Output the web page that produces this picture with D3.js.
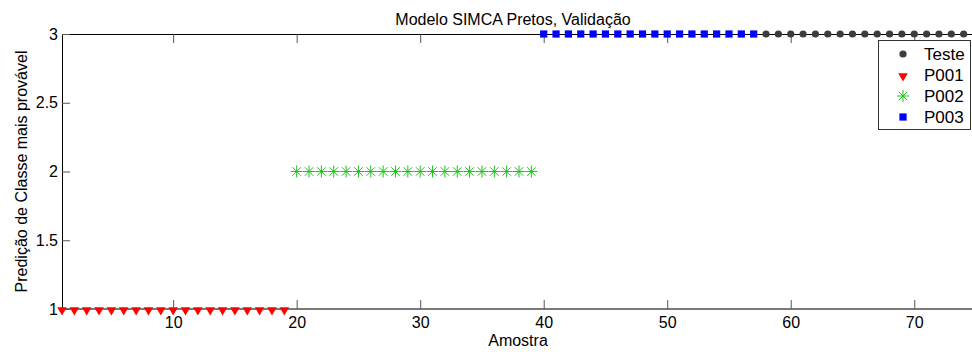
<!DOCTYPE html>
<html><head><meta charset="utf-8">
<script src="https://cdn.jsdelivr.net/npm/d3@7/dist/d3.min.js"></script>
<style>
html,body{margin:0;padding:0;background:#fff;}
svg{display:block;font-family:"Liberation Sans",Arial,sans-serif;}
</style></head>
<body>
<svg id="chart" width="972" height="352"></svg>
<script>
const title = "Modelo SIMCA Pretos, Validação";
const xLabel = "Amostra";
const yLabel = "Predição de Classe mais provável";
const xTicks = [10, 20, 30, 40, 50, 60, 70];
const yTicks = [1, 1.5, 2, 2.5, 3];
const xDomain = [1, 75];
const yDomain = [1, 3];

const p001X = [1,2,3,4,5,6,7,8,9,10,11,12,13,14,15,16,17,18,19];
const p001Y = [1,1,1,1,1,1,1,1,1,1,1,1,1,1,1,1,1,1,1];
const p002X = [20,21,22,23,24,25,26,27,28,29,30,31,32,33,34,35,36,37,38,39];
const p002Y = [2,2,2,2,2,2,2,2,2,2,2,2,2,2,2,2,2,2,2,2];
const p003X = [40,41,42,43,44,45,46,47,48,49,50,51,52,53,54,55,56,57];
const p003Y = [3,3,3,3,3,3,3,3,3,3,3,3,3,3,3,3,3,3];
const testeX = [58,59,60,61,62,63,64,65,66,67,68,69,70,71,72,73,74];
const testeY = [3,3,3,3,3,3,3,3,3,3,3,3,3,3,3,3,3];

const legendNames = ["Teste", "P001", "P002", "P003"];

const svg = d3.select("#chart");
const L = 62, R = 976, T = 34, B = 309;
const x = d3.scaleLinear().domain(xDomain).range([L, R]);
const y = d3.scaleLinear().domain(yDomain).range([B, T]);

// box
svg.append("line").attr("x1", L).attr("x2", R).attr("y1", T + 0.5).attr("y2", T + 0.5).attr("stroke", "#000");
svg.append("line").attr("x1", L + 0.5).attr("x2", L + 0.5).attr("y1", T).attr("y2", B).attr("stroke", "#000");
svg.append("line").attr("x1", L).attr("x2", R).attr("y1", B).attr("y2", B).attr("stroke", "#7a7a7a").attr("stroke-width", 2);

// axes
const fs = 16;
const xAx = svg.append("g").attr("transform", `translate(0,${B})`)
  .call(d3.axisBottom(x).tickValues(xTicks).tickSizeInner(-9).tickSizeOuter(0).tickPadding(8).tickFormat(d3.format("d")));
const xAxTop = svg.append("g").attr("transform", `translate(0,${T})`)
  .call(d3.axisTop(x).tickValues(xTicks).tickSizeInner(-9).tickSizeOuter(0).tickFormat(""));
const yAx = svg.append("g").attr("transform", `translate(${L},0)`)
  .call(d3.axisLeft(y).tickValues(yTicks).tickSizeInner(-8).tickSizeOuter(0).tickPadding(4).tickFormat(d => String(d)));
[xAx, xAxTop, yAx].forEach(g => {
  g.select(".domain").remove();
  g.selectAll(".tick line").attr("stroke", "#555");
  g.selectAll(".tick text").attr("fill", "#000").style("font-size", fs + "px").style("font-family", "Liberation Sans, Arial, sans-serif");
});

// titles
svg.append("text").attr("x", 513).attr("y", 25).attr("text-anchor", "middle").style("font-size", fs + "px").text(title);
svg.append("text").attr("x", 518).attr("y", 346).attr("text-anchor", "middle").style("font-size", fs + "px").text(xLabel);
svg.append("text").attr("transform", `translate(27,${(T + B) / 2}) rotate(-90)`).attr("text-anchor", "middle").style("font-size", fs + "px").text(yLabel);

// markers
const tri = d3.symbol().type(d3.symbolTriangle).size(40);
const sq = d3.symbol().type(d3.symbolSquare).size(52);
function star(g, cx, cy, r) {
  const d = r * Math.SQRT1_2;
  g.append("path").attr("d",
    `M${cx - r},${cy}L${cx + r},${cy}M${cx},${cy - r}L${cx},${cy + r}M${cx - d},${cy - d}L${cx + d},${cy + d}M${cx - d},${cy + d}L${cx + d},${cy - d}`)
    .attr("stroke", "#19c619").attr("stroke-width", 1).attr("fill", "none");
}
const gP = svg.append("g");
gP.selectAll(".p1").data(p001X.map((v, i) => [v, p001Y[i]])).enter().append("path")
  .attr("d", tri).attr("fill", "#ff0000")
  .attr("transform", d => `translate(${x(d[0])},${y(d[1]) + 1}) rotate(180)`);
p002X.forEach((v, i) => star(gP, x(v), y(p002Y[i]), 6));
gP.selectAll(".p3").data(p003X.map((v, i) => [v, p003Y[i]])).enter().append("path")
  .attr("d", sq).attr("fill", "#0000ff")
  .attr("transform", d => `translate(${x(d[0])},${y(d[1])})`);
gP.selectAll(".te").data(testeX.map((v, i) => [v, testeY[i]])).enter().append("circle")
  .attr("cx", d => x(d[0])).attr("cy", d => y(d[1])).attr("r", 3.6).attr("fill", "#3c3c3c");

// legend
const lg = svg.append("g");
lg.append("rect").attr("x", 878.5).attr("y", 40.5).attr("width", 92).attr("height", 89)
  .attr("fill", "#fff").attr("stroke", "#333").attr("stroke-width", 1);
const rowY = [54, 75, 96, 117];
const mx = 903;
lg.append("circle").attr("cx", mx).attr("cy", rowY[0]).attr("r", 3.6).attr("fill", "#3c3c3c");
lg.append("path").attr("d", tri).attr("fill", "#ff0000").attr("transform", `translate(${mx},${rowY[1] + 1}) rotate(180)`);
star(lg, mx, rowY[2], 6);
lg.append("path").attr("d", sq).attr("fill", "#0000ff").attr("transform", `translate(${mx},${rowY[3]})`);
legendNames.forEach((n, i) => {
  lg.append("text").attr("x", 924).attr("y", rowY[i] + 6).style("font-size", "17px").text(n);
});
</script>
</body></html>
